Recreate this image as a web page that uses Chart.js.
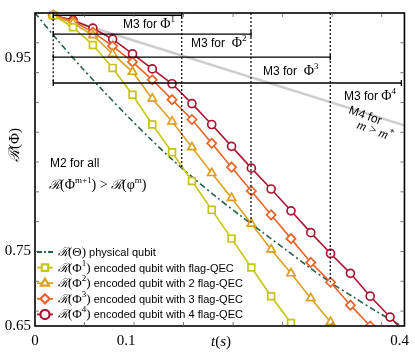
<!DOCTYPE html>
<html>
<head>
<meta charset="utf-8">
<script src="https://cdn.jsdelivr.net/npm/chart.js@4.4.0/dist/chart.umd.min.js"></script>
<style>
  html, body { margin: 0; padding: 0; background: #fff; }
  #wrap { width: 415px; height: 353px; }
</style>
</head>
<body>
<div id="wrap"><canvas id="fidelityChart"></canvas></div>
<script>
// sample times (s) shared by the encoded-qubit series
const times = [0.02, 0.0417, 0.0635, 0.0852, 0.107, 0.1287, 0.1504, 0.1722, 0.1939, 0.2157,
               0.2374, 0.2591, 0.2809, 0.3026, 0.3243, 0.3461, 0.3678, 0.3896, 0.4113];
const phi1 = [0.9975, 0.9841, 0.9642, 0.9386, 0.9086, 0.8753, 0.8443, 0.8121, 0.7799, 0.7477,
              0.7155, 0.6833, 0.6534, 0.6223];
const phi2 = [0.9975, 0.9886, 0.9752, 0.9542, 0.9342, 0.9042, 0.8787, 0.8498, 0.8210, 0.7932,
              0.7644, 0.7355, 0.7089, 0.6811, 0.6545, 0.6267];
const phi3 = [0.9975, 0.9908, 0.9786, 0.9630, 0.9453, 0.9253, 0.9031, 0.8809, 0.8543, 0.8276,
              0.8010, 0.7743, 0.7477, 0.7211, 0.6989, 0.6733, 0.6500, 0.6256];
const phi4 = [0.9975, 0.9919, 0.9830, 0.9708, 0.9542, 0.9375, 0.9209, 0.8987, 0.8753, 0.8509,
              0.8265, 0.8032, 0.7788, 0.7544, 0.7311, 0.7089, 0.6833, 0.6600, 0.6367];

// physical qubit curve
const physT = [0, 0.025, 0.05, 0.075, 0.1, 0.125, 0.15, 0.175, 0.2, 0.225, 0.25, 0.275,
               0.3, 0.325, 0.35, 0.375, 0.4, 0.4054];
const physR = [1.0, 0.9694, 0.9404, 0.9128, 0.8862, 0.8608, 0.8366, 0.8145, 0.7935, 0.7738,
               0.7545, 0.7355, 0.7163, 0.6981, 0.6820, 0.6661, 0.6514, 0.6481];

// M4 boundary (grey)
const m4T = [0.02, 0.4054];
const m4R = [0.9975, 0.8743];

// where each encoded curve meets the physical one (M3 limits)
const crossT = [0.161, 0.237, 0.324, 0.402];
const crossR = [0.8265, 0.7644, 0.6989, 0.6500];

// axis labels and minor ticks
const xTickLabels = [[0, '0'], [0.1, '0.1'], [0.4, '0.4']];
const yTickLabels = [[0.65, '0.65'], [0.7333, '0.75'], [0.95, '0.95']];
const xMinor = [0.0543, 0.1087, 0.163, 0.2174, 0.2717, 0.3261, 0.3804];
const yMinor = [0.9667, 0.9333, 0.9, 0.8667, 0.8333, 0.8, 0.7667, 0.7333, 0.7, 0.6667];

const SANS = '"Liberation Sans", Arial, sans-serif';
const SERIF = '"Liberation Serif", "Times New Roman", serif';

const colors = {
    phys: 'rgb(38, 98, 68)',
    phi1: 'rgb(200, 196, 20)',
    phi2: 'rgb(222, 160, 32)',
    phi3: 'rgb(232, 100, 40)',
    phi4: 'rgb(168, 22, 50)',
    m4: 'rgb(205, 205, 205)'
};

const pts = (xs, ys) => ys.map((v, i) => ({ x: xs[i], y: v }));

function encodedSet(label, data, color, style, radius) {
    return {
        label: label,
        data: pts(times, data),
        borderColor: color,
        backgroundColor: '#fff',
        borderWidth: 1.6,
        pointStyle: style,
        pointRadius: radius,
        pointBorderWidth: 1.7,
        pointBackgroundColor: '#fff',
        pointBorderColor: color,
        tension: 0,
        order: 1,
        clip: { left: 6, top: 6, right: 0, bottom: 0 }
    };
}

// draw text made of several font runs (for math bits)
function rich(ctx, x, y, parts, align) {
    let w = 0;
    parts.forEach(p => { ctx.font = p.f; p.w = ctx.measureText(p.t).width; w += p.w; });
    let cx = align === 'right' ? x - w : (align === 'center' ? x - w / 2 : x);
    parts.forEach(p => {
        ctx.font = p.f;
        ctx.fillText(p.t, cx, y + (p.dy || 0));
        cx += p.w;
    });
}

const sans = (s, size) => ({ t: s, f: (size || 11) + 'px ' + SANS });
const ser = (s, size) => ({ t: s, f: (size || 13) + 'px ' + SERIF });
const sup = s => ({ t: s, f: '9px ' + SERIF, dy: -6 });
const scr = (s, size) => ({ t: s, f: 'italic ' + (size || 12) + 'px ' + SERIF });

const decor = {
    id: 'decor',
    afterDatasetsDraw(chart) {
        const { ctx, chartArea: a, scales: { x, y } } = chart;
        ctx.save();
        ctx.strokeStyle = '#000';
        ctx.fillStyle = '#000';

        // M3 range bars
        const barY = [0.9975, 0.9764, 0.9506, 0.9217];
        const x0 = x.getPixelForValue(0.02);
        ctx.lineWidth = 1.3;
        barY.forEach((v, i) => {
            const py = y.getPixelForValue(v);
            const x1 = x.getPixelForValue(crossT[i]);
            ctx.beginPath();
            ctx.moveTo(x0, py); ctx.lineTo(x1, py);
            ctx.moveTo(x0, py - 3); ctx.lineTo(x0, py + 3);
            ctx.moveTo(x1, py - 3); ctx.lineTo(x1, py + 3);
            ctx.stroke();
        });

        // dotted verticals
        ctx.setLineDash([2, 2]);
        ctx.lineWidth = 1.2;
        ctx.beginPath();
        ctx.moveTo(x0, y.getPixelForValue(0.9975));
        ctx.lineTo(x0, y.getPixelForValue(0.9217));
        for (let i = 0; i < 3; i++) {
            const px = x.getPixelForValue(crossT[i]);
            ctx.moveTo(px, a.top);
            ctx.lineTo(px, y.getPixelForValue(crossR[i]));
        }
        ctx.stroke();
        ctx.setLineDash([]);

        // M3 labels
        ctx.textBaseline = 'alphabetic';
        rich(ctx, 175, 28, [sans('M3 for ', 12), ser('\u03A6', 14), sup('1')], 'right');
        rich(ctx, 191, 47, [sans('M3 for  ', 12), ser('\u03A6', 14), sup('2')]);
        rich(ctx, 263, 75, [sans('M3 for  ', 12), ser('\u03A6', 14), sup('3')]);
        rich(ctx, 344, 100, [sans('M3 for ', 12), ser('\u03A6', 14), sup('4')]);

        // M4 label, rotated along the grey line
        const rad = 20 * Math.PI / 180;
        ctx.save();
        ctx.translate(348, 113);
        ctx.rotate(rad);
        rich(ctx, 0, 0, [sans('M4 for', 12)]);
        ctx.restore();
        ctx.save();
        ctx.translate(356, 128);
        ctx.rotate(rad);
        rich(ctx, 0, 0, [{ t: 'm', f: 'italic 13px ' + SERIF }, { t: ' > ', f: '13px ' + SERIF },
                         { t: 'm', f: 'italic 13px ' + SERIF }, { t: '*', f: '10px ' + SERIF, dy: -5 }]);
        ctx.restore();

        // M2 label
        rich(ctx, 50, 167, [sans('M2 for all', 12)]);
        rich(ctx, 49, 189, [scr('\u211B', 13), ser('(\u03A6', 14), sup('m+1'), ser(') > ', 14),
                            scr('\u211B', 13), ser('(\u03C6', 14), sup('m'), ser(')', 14)]);

        // legend
        const rows = [
            { key: 'phys', math: [scr('\u211B'), ser('(\u0398)')], text: ' physical qubit' },
            { key: 'phi1', style: 'rect', math: [scr('\u211B'), ser('(\u03A6'), sup('1'), ser(')')], text: ' encoded qubit with flag-QEC' },
            { key: 'phi2', style: 'triangle', math: [scr('\u211B'), ser('(\u03A6'), sup('2'), ser(')')], text: ' encoded qubit with 2 flag-QEC' },
            { key: 'phi3', style: 'rectRot', math: [scr('\u211B'), ser('(\u03A6'), sup('3'), ser(')')], text: ' encoded qubit with 3 flag-QEC' },
            { key: 'phi4', style: 'circle', math: [scr('\u211B'), ser('(\u03A6'), sup('4'), ser(')')], text: ' encoded qubit with 4 flag-QEC' }
        ];
        rows.forEach((r, i) => {
            const cy = 252 + i * 15.6;
            ctx.strokeStyle = colors[r.key];
            ctx.lineWidth = 1.8;
            if (r.key === 'phys') ctx.setLineDash([5, 2, 2, 2]);
            ctx.beginPath();
            ctx.moveTo(37, cy); ctx.lineTo(53, cy);
            ctx.stroke();
            ctx.setLineDash([]);
            if (r.style) {
                ctx.fillStyle = '#fff';
                ctx.lineWidth = 2;
                Chart.helpers.drawPoint(ctx, { pointStyle: r.style, radius: 4.5, borderWidth: 2 }, 45, cy);
                ctx.fill();
                ctx.stroke();
            }
            ctx.fillStyle = '#000';
            rich(ctx, 58, cy + 4, r.math.concat([sans(r.text)]));
        });

        // frame
        ctx.strokeStyle = '#000';
        ctx.lineWidth = 1.6;
        ctx.strokeRect(a.left, a.top, a.right - a.left, a.bottom - a.top);

        // inward minor ticks on all four sides
        ctx.lineWidth = 0.8;
        ctx.strokeStyle = '#555';
        ctx.beginPath();
        xMinor.forEach(v => {
            const px = x.getPixelForValue(v);
            ctx.moveTo(px, a.bottom); ctx.lineTo(px, a.bottom - 4);
            ctx.moveTo(px, a.top); ctx.lineTo(px, a.top + 4);
        });
        yMinor.forEach(v => {
            const py = y.getPixelForValue(v);
            ctx.moveTo(a.left, py); ctx.lineTo(a.left + 4, py);
            ctx.moveTo(a.right, py); ctx.lineTo(a.right - 4, py);
        });
        ctx.stroke();

        // axis titles
        ctx.fillStyle = '#000';
        rich(ctx, 221, 346, [{ t: 't', f: 'italic 15px ' + SERIF }, { t: '(', f: '15px ' + SERIF },
                             { t: 's', f: 'italic 15px ' + SERIF }, { t: ')', f: '15px ' + SERIF }], 'center');
        ctx.save();
        ctx.translate(19, 145);
        ctx.rotate(-Math.PI / 2);
        rich(ctx, 0, 0, [{ t: '\u211B', f: 'italic 15px ' + SERIF }, { t: '(\u03A6)', f: '15px ' + SERIF }], 'center');
        ctx.restore();

        ctx.restore();
    }
};

document.addEventListener('DOMContentLoaded', function() {
    const ctx = document.getElementById('fidelityChart').getContext('2d');
    const xLabelMap = new Map(xTickLabels);
    const yLabelMap = new Map(yTickLabels);

    new Chart(ctx, {
        type: 'line',
        data: {
            datasets: [
                encodedSet('R(Phi1)', phi1, colors.phi1, 'rect', 4.8),
                encodedSet('R(Phi2)', phi2, colors.phi2, 'triangle', 4.8),
                encodedSet('R(Phi3)', phi3, colors.phi3, 'rectRot', 4.6),
                encodedSet('R(Phi4)', phi4, colors.phi4, 'circle', 4),
                {
                    label: 'R(Theta)',
                    data: pts(physT, physR),
                    borderColor: colors.phys,
                    borderWidth: 1.6,
                    borderDash: [6, 3, 2, 3],
                    pointRadius: 0,
                    tension: 0.3,
                    order: 2
                },
                {
                    label: 'M4',
                    data: pts(m4T, m4R),
                    borderColor: colors.m4,
                    borderWidth: 2.5,
                    pointRadius: 0,
                    order: 3
                }
            ]
        },
        options: {
            responsive: true,
            maintainAspectRatio: false,
            animation: false,
            devicePixelRatio: 1,
            layout: { padding: { top: 11, right: 7, left: 0, bottom: 0 } },
            plugins: {
                legend: { display: false },
                tooltip: { enabled: false }
            },
            scales: {
                x: {
                    type: 'linear',
                    min: 0,
                    max: 0.4054,
                    grid: { display: false, drawTicks: false },
                    border: { display: false },
                    afterFit: s => { s.height = 27; },
                    afterBuildTicks: s => { s.ticks = xTickLabels.map(([v]) => ({ value: v })); },
                    ticks: {
                        autoSkip: false,
                        maxRotation: 0,
                        padding: 6,
                        color: '#000',
                        font: { family: SERIF, size: 15 },
                        callback: v => xLabelMap.get(v) ?? ''
                    }
                },
                y: {
                    type: 'linear',
                    min: 0.65,
                    max: 1.0,
                    grid: { display: false, drawTicks: false },
                    border: { display: false },
                    afterFit: s => { s.width = 35; },
                    afterBuildTicks: s => { s.ticks = yTickLabels.map(([v]) => ({ value: v })); },
                    ticks: {
                        autoSkip: false,
                        padding: 4,
                        color: '#000',
                        font: { family: SERIF, size: 15 },
                        callback: v => yLabelMap.get(v) ?? ''
                    }
                }
            }
        },
        plugins: [decor]
    });
});
</script>
</body>
</html>
